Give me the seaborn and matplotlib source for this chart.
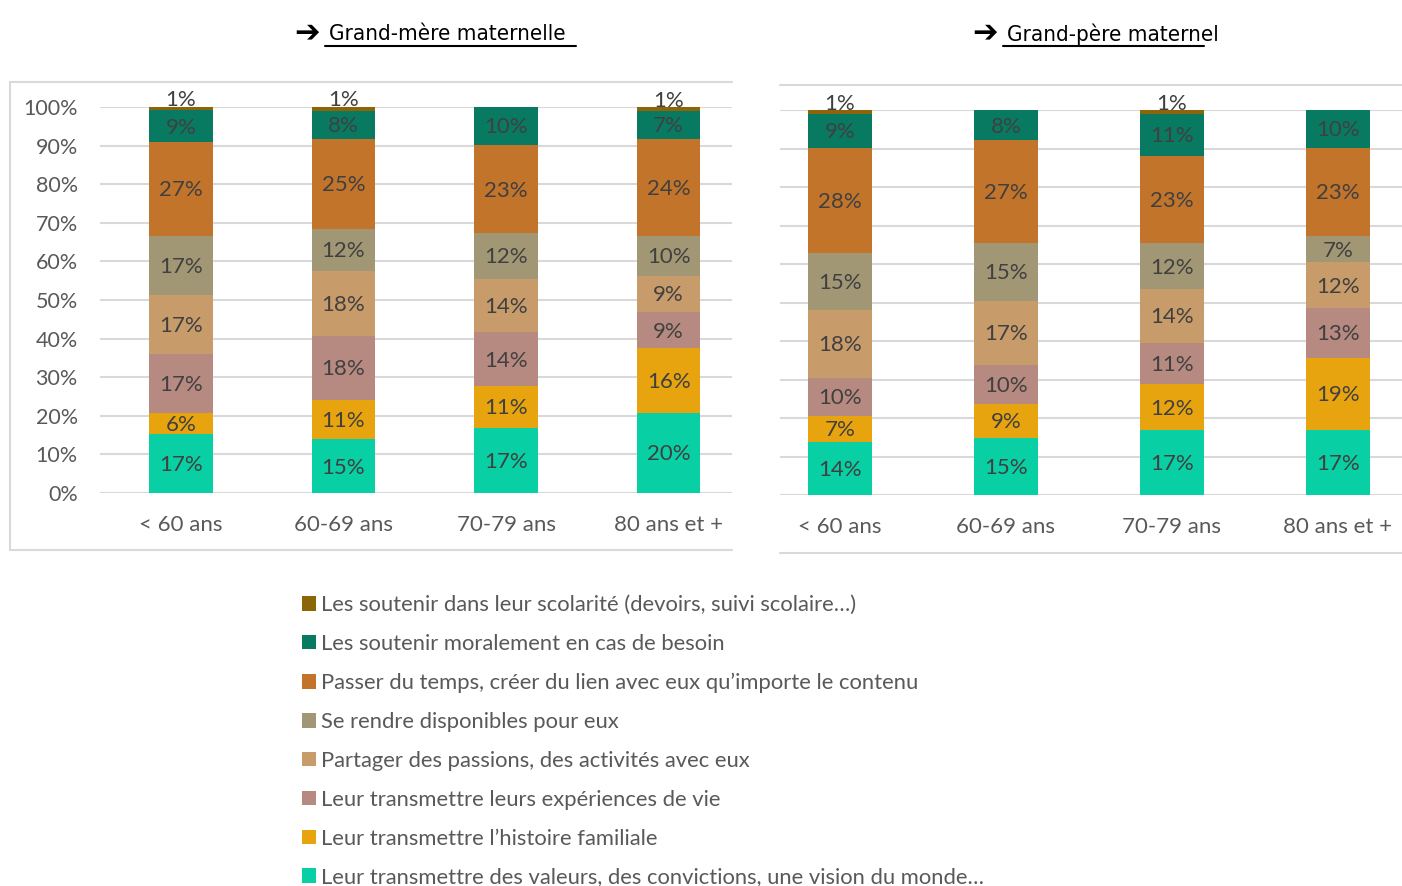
import numpy as np
import pandas as pd
import matplotlib
matplotlib.use("Agg")
import matplotlib.pyplot as plt
from matplotlib.patches import Patch
from matplotlib.lines import Line2D
from matplotlib.ticker import FuncFormatter
import seaborn as sns

# --- data ---------------------------------------------------------------
age_groups = ["< 60 ans", "60-69 ans", "70-79 ans", "80 ans et +"]

# stack order: bottom -> top
categories = [
    "Leur transmettre des valeurs, des convictions, une vision du monde…",
    "Leur transmettre l’histoire familiale",
    "Leur transmettre leurs expériences de vie",
    "Partager des passions, des activités avec eux",
    "Se rendre disponibles pour eux",
    "Passer du temps, créer du lien avec eux qu’importe le contenu",
    "Les soutenir moralement en cas de besoin",
    "Les soutenir dans leur scolarité (devoirs, suivi scolaire…)",
]
colors = ["#08CFA4", "#E8A40E", "#B68A80", "#C89B6A",
          "#A29775", "#C2742B", "#087A62", "#8C6508"]

# values in %, one list per category, per age group
grand_mere = [
    [17, 15, 17, 20],
    [6, 11, 11, 16],
    [17, 18, 14, 9],
    [17, 18, 14, 9],
    [17, 12, 12, 10],
    [27, 25, 23, 24],
    [9, 8, 10, 7],
    [1, 1, 0, 1],
]
grand_pere = [
    [14, 15, 17, 17],
    [7, 9, 12, 19],
    [10, 10, 11, 13],
    [18, 17, 14, 12],
    [15, 15, 12, 7],
    [28, 27, 23, 23],
    [9, 8, 11, 10],
    [1, 0, 1, 0],
]

titles = ["Grand-mère maternelle", "Grand-père maternel"]

# --- style --------------------------------------------------------------
sns.set_style("white")
plt.rcParams["font.family"] = ["Lato", "DejaVu Sans"]
TXT = "#595959"
LBL = "#404040"
GRID = "#D9D9D9"

fig = plt.figure(figsize=(14.02, 8.86), dpi=100)

ax_left = fig.add_axes([100 / 1402, 1 - 493 / 886, (732 - 100) / 1402, (493 - 107) / 886])
ax_right = fig.add_axes([780 / 1402, 1 - 495 / 886, (1402 - 780) / 1402, (495 - 110) / 886])


def draw_panel(ax, values, xlim, width, show_y):
    vals = np.array(values, dtype=float)
    shares = vals / vals.sum(axis=0)
    cum = np.cumsum(shares, axis=0)
    # draw cumulative bars from top layer down so each covers the next
    for i in range(len(categories) - 1, -1, -1):
        df = pd.DataFrame({"age": age_groups, "share": cum[i]})
        sns.barplot(data=df, x="age", y="share", color=colors[i],
                    saturation=1, width=width, linewidth=0, ax=ax, zorder=2)
    # data labels
    for i in range(len(categories)):
        for j in range(len(age_groups)):
            v = vals[i, j]
            if v <= 0:
                continue
            mid = cum[i, j] - shares[i, j] / 2
            dy = 6 if v <= 1 else -1
            ax.annotate(f"{int(v)}%", (j, mid), xytext=(0, dy),
                        textcoords="offset points", ha="center", va="center",
                        fontsize=16, color=LBL, zorder=3)
    ax.set_xlim(*xlim)
    ax.set_ylim(0, 1)
    ax.set_yticks(np.arange(0, 1.01, 0.1))
    ax.yaxis.grid(True, color=GRID, linewidth=1.5, zorder=0)
    ax.set_axisbelow(True)
    for s in ax.spines.values():
        s.set_visible(False)
    ax.axhline(0, color=GRID, linewidth=1.5, zorder=1)
    ax.set_xlabel("")
    ax.set_ylabel("")
    ax.tick_params(axis="x", length=0, pad=16, labelsize=16, labelcolor=TXT)
    ax.tick_params(axis="y", length=0, pad=16, labelsize=15.5, labelcolor=TXT)
    if show_y:
        ax.yaxis.set_major_formatter(FuncFormatter(lambda y, p: f"{y * 100:.0f}%"))
    else:
        ax.set_yticklabels([])


draw_panel(ax_left, grand_mere, (-0.498, 3.39), 0.39, True)
draw_panel(ax_right, grand_pere, (-0.361, 3.386), 0.39, False)

# --- panel frames -------------------------------------------------------
def fline(x0, y0, x1, y1):
    fig.add_artist(Line2D([x0 / 1402, x1 / 1402], [1 - y0 / 886, 1 - y1 / 886],
                          color=GRID, linewidth=1.5))

fline(10, 82, 732, 82)
fline(10, 550, 732, 550)
fline(10, 82, 10, 550)
fline(780, 85, 1402, 85)
fline(780, 553, 1402, 553)

# --- titles -------------------------------------------------------------
for (ax_x, tx_x, ul0, ul1), t in zip([(307, 329, 325, 576), (985, 1007, 1003, 1204)], titles):
    fig.text(ax_x / 1402, 1 - 33 / 886, "➔", family=["DejaVu Sans"], fontsize=22,
             fontweight="bold", ha="center", va="center", color="black")
    fig.text(tx_x / 1402, 1 - 34 / 886, t, family=["DejaVu Sans"],
             fontstretch="condensed", fontsize=16,
             ha="left", va="center", color="black")
    fig.add_artist(Line2D([ul0 / 1402, ul1 / 1402], [1 - 46 / 886, 1 - 46 / 886],
                          color="black", linewidth=1.5))

# --- legend -------------------------------------------------------------
handles = [Patch(facecolor=c, edgecolor="none") for c in colors[::-1]]
fig.legend(handles, categories[::-1], loc="upper left",
           bbox_to_anchor=(302 / 1402, 1 - 595 / 886), frameon=False,
           fontsize=15.8, labelcolor=TXT, handlelength=0.64, handleheight=0.64,
           handletextpad=0.23, labelspacing=0.86, borderpad=0, borderaxespad=0)

plt.savefig("out.png", dpi=100)
plt.close()
